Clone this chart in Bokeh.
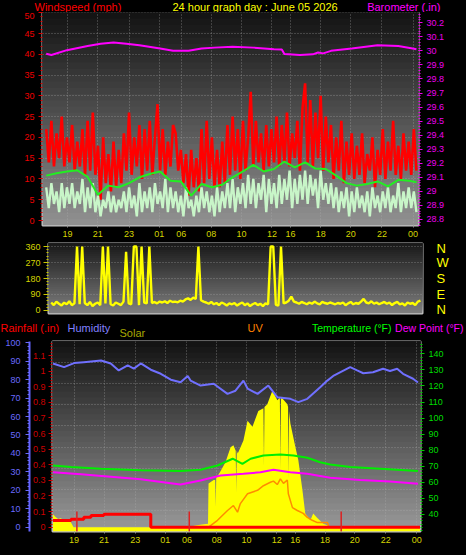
import numpy as np
from bokeh.plotting import figure
from bokeh.models import (Range1d, LinearAxis, FixedTicker, CustomJSTickFormatter, Label,
                          BoxAnnotation, Grid, GlobalInlineStyleSheet)
from bokeh.layouts import column, row
from bokeh.embed import file_html
from bokeh.resources import INLINE

# ---------------- data ----------------
tick_pos = [8.2, 19.9, 32.0, 43.7, 52.2, 63.8, 75.4, 87.2, 94.4, 106.0, 117.6, 129.7, 141.7]
tick_labels = ["19", "21", "23", "01", "06", "08", "10", "12", "16", "18", "20", "22", "00"]

# wind (mph), 144 ten-minute samples
wind_gust = [22, 14, 24, 13, 21, 15, 25, 13, 20, 14,
             23, 12, 19, 13, 22, 11, 24, 12, 26, 11,
             18, 5, 20, 9, 16, 7, 19, 8, 17, 9,
             21, 12, 26, 11, 20, 13, 23, 10, 22, 12,
             24, 11, 20, 28, 12, 22, 11, 19, 13, 23,
             21, 12, 17, 9, 16, 6, 17, 8, 15, 7,
             22, 9, 24, 10, 20, 8, 17, 8, 19, 9,
             23, 11, 25, 12, 22, 10, 24, 12, 20, 31,
             13, 24, 14, 21, 12, 23, 13, 22, 14, 25,
             13, 23, 14, 26, 13, 21, 15, 24, 12, 27,
             33, 14, 29, 13, 26, 15, 30, 12, 25, 14,
             23, 10, 20, 12, 24, 9, 19, 11, 21, 10,
             18, 11, 21, 9, 16, 12, 20, 8, 17, 11,
             22, 10, 19, 12, 24, 11, 18, 10, 21, 12,
             19, 11, 22, 12]
wind_speed = [8, 3, 9, 4, 7, 2, 9, 3, 8, 4,
              9, 3, 7, 4, 10, 2, 8, 3, 9, 2,
              6, 1, 5, 3, 7, 2, 6, 2, 5, 3,
              7, 2, 8, 3, 6, 1, 9, 2, 7, 3,
              8, 2, 9, 4, 7, 3, 10, 2, 8, 3,
              7, 2, 6, 1, 8, 3, 5, 1, 6, 2,
              8, 3, 7, 2, 6, 1, 8, 2, 7, 3,
              9, 3, 10, 2, 8, 4, 9, 3, 11, 4,
              10, 3, 9, 5, 11, 2, 10, 4, 9, 3,
              11, 4, 10, 5, 12, 3, 10, 4, 11, 5,
              12, 4, 11, 6, 10, 3, 12, 5, 9, 4,
              9, 3, 8, 2, 7, 3, 8, 1, 7, 2,
              8, 3, 6, 2, 7, 1, 8, 3, 6, 2,
              7, 3, 8, 2, 6, 3, 9, 2, 7, 3,
              8, 3, 7, 2]
avg_idx = [0, 4, 8, 12, 16, 20, 24, 28, 32, 36, 40, 44, 48, 52, 56, 60, 64, 68, 72, 76,
           80, 84, 88, 92, 96, 100, 104, 108, 112, 116, 120, 124, 128, 132, 136, 140, 143]
wind_avg = [10.8, 11.4, 11.8, 12.1, 10.5, 6.2, 8.4, 8.0, 9.0, 10.4, 11.2, 11.8, 9.6, 9.4, 6.0,
            8.8, 8.0, 8.6, 10.4, 11.8, 13.4, 11.8, 12.4, 14.2, 12.8, 14.0, 12.5, 12.4, 10.8,
            9.0, 8.4, 8.8, 9.4, 8.2, 9.8, 9.6, 9.2]
baro_idx = [0, 2, 8, 16, 21, 26, 31, 36, 44, 49, 55, 60, 65, 72, 80, 88, 91, 92, 98, 103,
            105, 107, 110, 118, 128, 136, 141, 143]
baro = [29.98, 29.97, 30.005, 30.035, 30.05, 30.06, 30.05, 30.04, 30.016, 30.0, 30.0, 30.016,
        30.023, 30.03, 30.023, 30.012, 30.01, 29.977, 29.97, 29.975, 29.988, 29.982, 30.0,
        30.016, 30.04, 30.035, 30.019, 30.012]

# wind direction (degrees), 144 samples
wind_dir = [45, 30, 50, 38, 28, 44, 35, 52, 30, 40,
            360, 35, 360, 42, 30, 48, 25, 38, 45, 30,
            360, 40, 360, 35, 28, 45, 38, 30, 50, 330,
            40, 35, 360, 360, 30, 360, 45, 40, 360, 42,
            48, 40, 50, 45, 52, 42, 55, 48, 50, 46,
            55, 50, 62, 68, 60, 72, 65, 360, 58, 50,
            45, 38, 48, 35, 42, 30, 45, 38, 28, 40,
            35, 42, 28, 38, 45, 30, 40, 25, 35, 42,
            30, 38, 25, 40, 35, 360, 360, 32, 28, 360,
            40, 45, 55, 78, 50, 45, 38, 48, 42, 35,
            45, 38, 50, 40, 35, 48, 42, 38, 45, 40,
            35, 42, 38, 45, 30, 40, 48, 35, 42, 38,
            50, 65, 45, 40, 52, 38, 45, 35, 42, 48,
            38, 45, 30, 42, 48, 35, 40, 28, 45, 38,
            42, 30, 50, 55]

hum_idx = [0, 4.3, 8.2, 12, 18.7, 22.5, 25.6, 29.1, 31.5, 34.2, 38.1, 42, 45.9, 49.7, 52.5,
           53.6, 57.5, 62.6, 68, 71.1, 74.2, 75.8, 79.7, 83.9, 87.4, 92.5, 95.6, 99.1, 104.1,
           106.9, 109.2, 115.8, 118.5, 120.9, 124.7, 128.6, 131.3, 134.1, 136.4, 140.3, 142.2]
humidity = [88.8, 86.8, 89, 89.5, 90.4, 88.8, 85, 87.7, 86, 88.8, 85.4, 83.2, 80, 78.6, 82,
            79.5, 76.8, 77.8, 72.3, 74, 79.5, 75.2, 72.3, 76.8, 70.5, 69.6, 67.8, 69.6, 75.9,
            79.5, 82, 86.8, 85, 83.5, 84, 85.9, 84.7, 85.9, 83.2, 80.5, 78.5]
temp_idx = [0, 7, 18.7, 34.2, 49.7, 57.5, 64.1, 70, 73.8, 77, 82, 88.6, 93.7, 99.1, 104.1,
            108, 115.8, 127.5, 142.2]
temperature = [70.5, 69.5, 68.5, 67.5, 67, 67.8, 70.5, 74.7, 71.5, 74.7, 76.7, 77.3, 76.7,
               75.3, 72.5, 71.1, 69.5, 68.5, 67]
dew_idx = [0, 10.9, 22.5, 34.2, 45.9, 49.7, 57.5, 65.3, 74.2, 80.8, 85.9, 92.5, 99.1, 108,
           119.7, 131.3, 142.2]
dewpoint = [66.3, 65, 63.5, 62, 59.5, 58.7, 61.2, 64.3, 65.3, 66.3, 67.8, 66.3, 65.3, 62.8,
            61.5, 60.5, 59.1]
solar_idx = [0, 1, 2, 3, 4, 5, 6, 7, 8, 52, 55, 58, 60.4, 60.6, 62.6, 63.2, 63.4, 63.6, 65,
             67.2, 69.2, 70.3, 71.2, 71.4, 71.6, 72.0, 74.2, 75.8, 77.7, 80, 82.0, 82.2, 82.4,
             83.5, 85.5, 87.4, 88.4, 88.6, 88.8, 89.5, 91.3, 91.6, 91.8, 92.0, 92.5, 94.4,
             95.6, 97.2, 98.3, 100.3, 101.4, 102.9, 105.3, 108, 109, 143]
solar = [95, 75, 60, 65, 55, 60, 50, 35, 0, 0, 10, 20, 25, 320, 345, 345, 150, 360, 400,
         475, 585, 600, 560, 250, 560, 540, 635, 780, 735, 850, 870, 450, 880,
         900, 1000, 930, 950, 420, 950, 940, 900, 880, 350, 850, 760, 590,
         490, 270, 100, 50, 100, 70, 25, 5, 0, 0]
uv_idx = [60.6, 64.1, 68, 70.3, 71.9, 73, 75.8, 79.7, 82, 84.7, 85.9, 87.4, 88.6, 89.8, 91.3,
          91.7, 93.3, 95.2, 97.5, 99.1, 101, 103, 107, 107.5]
uv = [0, 0.6, 1.45, 1.88, 1.3, 2.05, 2.9, 3.2, 3.6, 3.9, 4.0, 3.7, 4.2, 3.8, 4.1, 2.9, 1.7,
      1.45, 1.2, 0.85, 0.6, 0.4, 0.4, 0]
rain_idx = [0, 7, 12, 14.8, 19.8, 38.1, 143]
rain = [0.043, 0.051, 0.064, 0.075, 0.083, 0, 0]
sun_idx = [9.3, 53.1, 112.3]

# ---------------- styling helpers ----------------
W = 466
HEAD = "'Liberation Sans', sans-serif"
TICKF = "'Liberation Sans', sans-serif"
idx144 = np.arange(len(wind_gust))


def base(h, xr, yr, lb, rb, tb, bb):
    p = figure(width=W, height=h, x_range=xr, y_range=yr, output_backend="svg",
               toolbar_location=None, x_axis_location=None, y_axis_location=None,
               min_border_left=lb, min_border_right=rb, min_border_top=tb, min_border_bottom=bb,
               background_fill_color="black", border_fill_color="black")
    p.grid.visible = False
    p.outline_line_color = "#c4c4c4"
    p.outline_line_width = 2
    return p


def header(h):
    p = figure(width=W, height=h, x_range=Range1d(0, W), y_range=Range1d(h, 0), output_backend="svg",
               toolbar_location=None, x_axis_location=None, y_axis_location=None, min_border=0,
               background_fill_color="black", border_fill_color="black", outline_line_color=None)
    p.grid.visible = False
    return p


def gradient(p, lo, hi, c_top, c_bot, n=34):
    for k in range(n):
        b = lo + (hi - lo) * k / n
        f = (k + 0.5) / n
        g = int(round(c_bot + (c_top - c_bot) * f))
        p.add_layout(BoxAnnotation(bottom=b, top=hi + (hi - lo), fill_color=f"#{g:02x}{g:02x}{g:02x}",
                                   fill_alpha=1, line_color=None, level="image"))


def style_axis(ax, label_color, tick_color, tick_out=4, minor_out=2, standoff=3, size="9px"):
    ax.axis_line_color = None
    ax.major_tick_line_color = tick_color
    ax.minor_tick_line_color = tick_color
    ax.major_tick_in = 0
    ax.major_tick_out = tick_out
    ax.minor_tick_in = 0
    ax.minor_tick_out = minor_out
    ax.major_label_text_color = label_color
    ax.major_label_text_font_size = size
    ax.major_label_text_font = TICKF
    ax.major_label_standoff = standoff


def grid(p, dim, ticks, range_name="default"):
    g = Grid(dimension=dim, ticker=FixedTicker(ticks=list(ticks)), grid_line_color="#b0b0b0",
             grid_line_alpha=0.55, grid_line_dash="1 2", grid_line_width=1, level="underlay")
    if dim == 1:
        g.y_range_name = range_name
    p.add_layout(g, "center")


def head(p, x, y, text, color, size="11px", align="left"):
    p.add_layout(Label(x=x, y=y, text=text, text_color=color, text_font=HEAD, text_font_size=size,
                       text_baseline="middle", text_align=align))


xfmt_code = "const i = pos.findIndex(v => Math.abs(v - tick) < 1e-6); return i < 0 ? '' : lab[i];"
num_code = "return String(Math.round(tick * 10) / 10);"


def time_axis(p):
    ax = LinearAxis(ticker=FixedTicker(ticks=tick_pos, minor_ticks=[]),
                    formatter=CustomJSTickFormatter(args=dict(pos=tick_pos, lab=tick_labels), code=xfmt_code))
    style_axis(ax, "#d4d400", "#909090", tick_out=2, standoff=3)
    p.add_layout(ax, "below")


# ---------------- header above top panel ----------------
h1 = header(12)
head(h1, 34, 6, "Windspeed (mph)", "#ff0000")
head(h1, 172, 6, "24 hour graph day : June 05 2026", "#ffff00")
head(h1, 440, 6, "Barometer (.in)", "#ff00ff", align="right")

# ---------------- top panel: wind + barometer ----------------
p1 = base(228, Range1d(-1.43, 143.8), Range1d(-1.2, 50.07), 42, 48, 0, 15)
p1.extra_y_ranges = {"baro": Range1d(28.757, 30.273)}
gradient(p1, -1.2, 50.07, 0x12, 0x92)
grid(p1, 0, tick_pos)
grid(p1, 1, range(5, 51, 5))

ax = LinearAxis(ticker=FixedTicker(ticks=list(range(0, 51, 5)), minor_ticks=list(range(0, 51))))
style_axis(ax, "#ee0000", "#dd0000", tick_out=4, standoff=4)
p1.add_layout(ax, "left")
baro_ticks = [round(28.8 + 0.1 * k, 1) for k in range(15)]
ax = LinearAxis(y_range_name="baro",
                ticker=FixedTicker(ticks=baro_ticks, minor_ticks=[round(28.76 + 0.02 * k, 2) for k in range(77)]),
                formatter=CustomJSTickFormatter(code=num_code))
style_axis(ax, "#ee00ee", "#ee00ee", tick_out=4, standoff=4)
p1.add_layout(ax, "right")
time_axis(p1)

p1.line(idx144, wind_gust, color="#ff0000", line_width=2.6)
p1.line(idx144, wind_speed, color="#c8f5c8", line_width=2.4)
p1.line(avg_idx, wind_avg, color="#22ee22", line_width=2)
p1.line(baro_idx, baro, y_range_name="baro", color="#ff00ff", line_width=2)

# ---------------- middle panel: wind direction ----------------
p2 = base(76, Range1d(-1.05, 143.8), Range1d(-16.9, 376.9), 48, 44, 3, 3)
gradient(p2, -16.9, 376.9, 0x18, 0x80)
grid(p2, 1, [90, 180, 270, 360])
ax = LinearAxis(ticker=FixedTicker(ticks=[0, 90, 180, 270, 360], minor_ticks=list(range(0, 361, 18))))
style_axis(ax, "#d4d400", "#c8c800", tick_out=5, standoff=3)
p2.add_layout(ax, "left")
ax = LinearAxis(ticker=FixedTicker(ticks=[0, 90, 180, 270, 360], minor_ticks=[]),
                formatter=CustomJSTickFormatter(code="return {0:'N',90:'E',180:'S',270:'W',360:'N'}[Math.round(tick)];"))
style_axis(ax, "#ffff00", None, tick_out=0, minor_out=0, standoff=14, size="13px")
ax.major_label_text_font = HEAD
p2.add_layout(ax, "right")
p2.line(idx144, wind_dir, color="#ffff00", line_width=2.4)

# ---------------- header above bottom panel ----------------
h3 = header(23)
head(h3, 0, 11, "Rainfall (.in)", "#ff0000")
head(h3, 67, 11, "Humidity", "#8080ff")
head(h3, 119, 16, "Solar", "#a8a800")
head(h3, 247, 11, "UV", "#ff8000")
head(h3, 391, 11, "Temperature (°F)", "#00ff00", size="10.5px", align="right")
head(h3, 463, 11, "Dew Point (°F)", "#ff00ff", size="10.5px", align="right")

# ---------------- bottom panel ----------------
p3 = base(216, Range1d(-0.2, 143.2), Range1d(-2.33, 100.7), 52, 46, 2, 24)
p3.extra_y_ranges = {"rain": Range1d(-0.0276, 1.19), "temp": Range1d(29.42, 147.65),
                     "solar": Range1d(-2.33 * 13.5, 100.7 * 13.5), "uv": Range1d(-2.33 * 0.16, 100.7 * 0.16)}
gradient(p3, -2.33, 100.7, 0x12, 0x9a)
grid(p3, 0, tick_pos)
grid(p3, 1, [-2.33 + (100.7 + 2.33) * k / 9 for k in range(1, 9)])

ax = LinearAxis(y_range_name="rain",
                ticker=FixedTicker(ticks=[round(0.1 * k, 1) for k in range(12)],
                                   minor_ticks=[round(0.02 * k, 2) for k in range(60)]),
                formatter=CustomJSTickFormatter(code=num_code))
style_axis(ax, "#cc0000", "#cc0000", tick_out=4, standoff=3)
p3.add_layout(ax, "left")
ax = LinearAxis(ticker=FixedTicker(ticks=list(range(0, 101, 10)), minor_ticks=list(range(0, 101, 2))))
style_axis(ax, "#6a6aff", "#6a6aff", tick_out=4, standoff=5)
ax.axis_line_color = "#6464ff"
ax.axis_line_width = 2
p3.add_layout(ax, "left")
ax = LinearAxis(y_range_name="temp",
                ticker=FixedTicker(ticks=list(range(40, 141, 10)), minor_ticks=list(range(30, 148, 2))))
style_axis(ax, "#00dd00", "#00cc00", tick_out=4, standoff=4)
p3.add_layout(ax, "right")
time_axis(p3)

p3.varea(x=solar_idx, y1=-2.33 * 13.5, y2=solar, y_range_name="solar", fill_color="#ffff00")
p3.line(uv_idx, uv, y_range_name="uv", color="#ff8c00", line_width=1.5)
p3.line(temp_idx, temperature, y_range_name="temp", color="#00ee00", line_width=2)
p3.line(dew_idx, dewpoint, y_range_name="temp", color="#ff00ff", line_width=2)
p3.line(hum_idx, humidity, color="#7070ff", line_width=2)
p3.step(rain_idx, rain, mode="after", y_range_name="rain", color="#ff0000", line_width=3)
p3.segment(x0=sun_idx, y0=-0.03, x1=sun_idx, y1=0.1, y_range_name="rain", color="#dd2222", line_width=1.5)

layout = column(row(h1), row(p1), row(p2), row(h3), row(p3), spacing=0,
                stylesheets=[GlobalInlineStyleSheet(css="html, body { margin: 0; padding: 0; background: #000; overflow: hidden; }")])

open("out.html", "w").write(file_html(layout, INLINE))
